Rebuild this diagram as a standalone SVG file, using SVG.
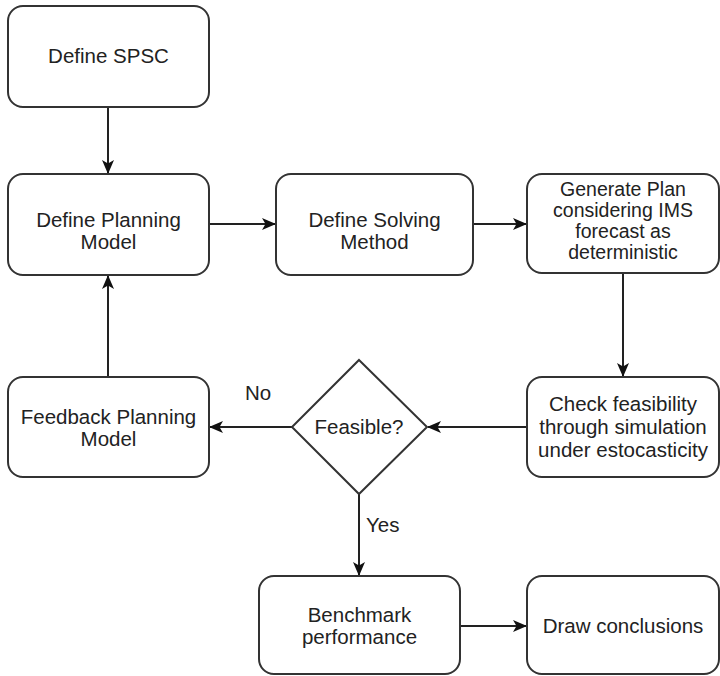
<svg xmlns="http://www.w3.org/2000/svg" width="720" height="676" viewBox="0 0 720 676">
<defs>
<marker id="arr" markerWidth="14" markerHeight="12" refX="13" refY="6" orient="auto" markerUnits="userSpaceOnUse">
<path d="M0,0 L14,6 L0,12 L3.5,6 Z" fill="#111"/>
</marker>
<style>
.box{fill:#fff;stroke:#333;stroke-width:2}
.t{font-family:"Liberation Sans",Arial,sans-serif;font-size:20.5px;fill:#222;text-anchor:middle}
.s{font-size:19.5px}
.l{font-family:"Liberation Sans",Arial,sans-serif;font-size:20.5px;fill:#222}
.c{fill:none;stroke:#222;stroke-width:2;marker-end:url(#arr)}
</style>
</defs>
<rect width="720" height="676" fill="#fff"/>
<g id="connectors">
<path class="c" d="M108,107 V173"/>
<path class="c" d="M209,224 H275"/>
<path class="c" d="M473,224 H526"/>
<path class="c" d="M623,273 V376"/>
<path class="c" d="M527,427 H428"/>
<path class="c" d="M293,427 H210"/>
<path class="c" d="M108,377 V276"/>
<path class="c" d="M359,493 V575"/>
<path class="c" d="M460,626 H526"/>
<text class="t" x="258" y="400">No</text>
<text class="l" x="366" y="532">Yes</text>
</g>
<g id="n1"><rect class="box" x="8" y="6" width="201" height="101" rx="15"/><text class="t" x="108.5" y="63">Define SPSC</text></g>
<g id="n2"><rect class="box" x="8" y="174" width="201" height="101" rx="15"/><text class="t" x="108.5" y="227">Define Planning</text><text class="t" x="108.5" y="249">Model</text></g>
<g id="n3"><rect class="box" x="276" y="174" width="197" height="101" rx="15"/><text class="t" x="374.5" y="227">Define Solving</text><text class="t" x="374.5" y="249">Method</text></g>
<g id="n4"><rect class="box" x="527" y="174" width="192" height="99" rx="15"/><text class="t s" x="623" y="196">Generate Plan</text><text class="t s" x="623" y="217">considering IMS</text><text class="t s" x="623" y="238">forecast as</text><text class="t s" x="623" y="259">deterministic</text></g>
<g id="n5"><rect class="box" x="527" y="377" width="192" height="100" rx="15"/><text class="t" x="623" y="411">Check feasibility</text><text class="t" x="623" y="434">through simulation</text><text class="t" x="623" y="457">under estocasticity</text></g>
<g id="n6"><polygon points="359,360 427,427 359,494 292,427" fill="#fff" stroke="#333" stroke-width="2"/><text class="t" x="359" y="434">Feasible?</text></g>
<g id="n7"><rect class="box" x="8" y="377" width="201" height="100" rx="15"/><text class="t" x="108.5" y="424">Feedback Planning</text><text class="t" x="108.5" y="446">Model</text></g>
<g id="n8"><rect class="box" x="259" y="576" width="201" height="98" rx="15"/><text class="t" x="359.5" y="622">Benchmark</text><text class="t" x="359.5" y="644">performance</text></g>
<g id="n9"><rect class="box" x="527" y="576" width="192" height="98" rx="15"/><text class="t" x="623" y="633">Draw conclusions</text></g>
</svg>
